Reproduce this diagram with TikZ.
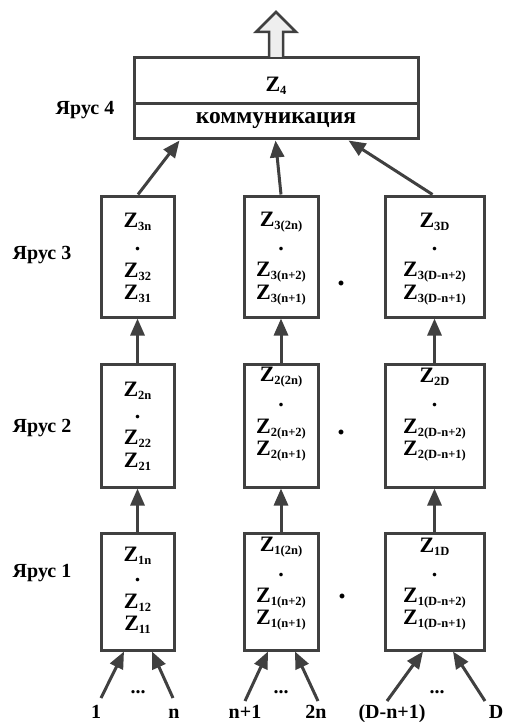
\documentclass[tikz,border=0pt]{standalone}
\usepackage{fontspec}
\setmainfont{Liberation Serif}
\usetikzlibrary{arrows.meta,calc}
\definecolor{dg}{RGB}{64,64,64}
\definecolor{lg}{RGB}{238,238,238}
\newcommand{\Zi}[1]{Z\raisebox{-3pt}{\fontsize{12.5}{12.5}\selectfont #1}}
\begin{document}
\begin{tikzpicture}[x=1pt,y=-1pt]
\tikzset{
  box/.style={draw=dg, line width=3pt, fill=white, inner sep=0pt},
  txt/.style={inner sep=0pt, font=\fontsize{22}{22}\selectfont\bfseries, text=black},
  lab/.style={inner sep=0pt, font=\fontsize{20}{20}\selectfont\bfseries, text=black},
  bigdot/.style={inner sep=0pt, font=\fontsize{30}{30}\selectfont\bfseries, text=black},
  arr/.style={draw=dg, line width=3pt, -{Triangle[length=17pt,width=14pt]}}
}
\useasboundingbox (0,0) rectangle (505,722);

% tier 4
\node[box, minimum width=284, minimum height=81] (b4) at (276,98.5) {};
\draw[dg, line width=3pt] (134,104) -- (418,104);
\node[txt] (z4) at (276,86) {\Zi{4}};
\node[txt, font=\fontsize{23.5}{23.5}\selectfont\bfseries] (komm) at (276,121) {коммуникация};
\node[lab] (y4) at (85,110) {Ярус 4};
\draw[dg, line width=2.5pt, fill=lg, line join=miter]
  (269,57) -- (269,32) -- (256,32) -- (276,12) -- (296,32) -- (283,32) -- (283,57);

% boxes
\node[box, minimum width=73, minimum height=121] (b3a) at (137.5,256.5) {};
\node[box, minimum width=74, minimum height=121] (b3b) at (281,256.5) {};
\node[box, minimum width=99, minimum height=121] (b3c) at (434.5,256.5) {};
\node[box, minimum width=73, minimum height=123] (b2a) at (137.5,425.5) {};
\node[box, minimum width=74, minimum height=123] (b2b) at (281,425.5) {};
\node[box, minimum width=99, minimum height=123] (b2c) at (434.5,425.5) {};
\node[box, minimum width=73, minimum height=117] (b1a) at (137.5,591.5) {};
\node[box, minimum width=74, minimum height=117] (b1b) at (281,591.5) {};
\node[box, minimum width=99, minimum height=117] (b1c) at (434.5,591.5) {};

% labels
\node[lab] (y3) at (42,255) {Ярус 3};
\node[lab] (y2) at (42,428) {Ярус 2};
\node[lab] (y1) at (42,573) {Ярус 1};

% tier 3 texts
\node[txt] (t3a1) at (137.5,222) {\Zi{3n}};
\node[txt] (t3a2) at (137.5,249) {.};
\node[txt] (t3a3) at (137.5,272) {\Zi{32}};
\node[txt] (t3a4) at (137.5,294) {\Zi{31}};
\node[txt] (t3b1) at (281,222) {\Zi{3(2n)}};
\node[txt] (t3b2) at (281,249) {.};
\node[txt] (t3b3) at (281,272) {\Zi{3(n+2)}};
\node[txt] (t3b4) at (281,295) {\Zi{3(n+1)}};
\node[txt] (t3c1) at (434.5,222) {\Zi{3D}};
\node[txt] (t3c2) at (434.5,249) {.};
\node[txt] (t3c3) at (434.5,272) {\Zi{3(D-n+2)}};
\node[txt] (t3c4) at (434.5,295) {\Zi{3(D-n+1)}};
\node[bigdot] (d3) at (341,283) {.};

% tier 2 texts
\node[txt] (t2a1) at (137.5,391) {\Zi{2n}};
\node[txt] (t2a2) at (137.5,417) {.};
\node[txt] (t2a3) at (137.5,439) {\Zi{22}};
\node[txt] (t2a4) at (137.5,462) {\Zi{21}};
\node[txt] (t2b1) at (281,377) {\Zi{2(2n)}};
\node[txt] (t2b2) at (281,405) {.};
\node[txt] (t2b3) at (281,429) {\Zi{2(n+2)}};
\node[txt] (t2b4) at (281,451) {\Zi{2(n+1)}};
\node[txt] (t2c1) at (434.5,377) {\Zi{2D}};
\node[txt] (t2c2) at (434.5,405) {.};
\node[txt] (t2c3) at (434.5,429) {\Zi{2(D-n+2)}};
\node[txt] (t2c4) at (434.5,451) {\Zi{2(D-n+1)}};
\node[bigdot] (d2) at (341,432) {.};

% tier 1 texts
\node[txt] (t1a1) at (137.5,556) {\Zi{1n}};
\node[txt] (t1a2) at (137.5,580) {.};
\node[txt] (t1a3) at (137.5,603) {\Zi{12}};
\node[txt] (t1a4) at (137.5,625) {\Zi{11}};
\node[txt] (t1b1) at (281,547) {\Zi{1(2n)}};
\node[txt] (t1b2) at (281,575) {.};
\node[txt] (t1b3) at (281,598) {\Zi{1(n+2)}};
\node[txt] (t1b4) at (281,620) {\Zi{1(n+1)}};
\node[txt] (t1c1) at (434.5,547) {\Zi{1D}};
\node[txt] (t1c2) at (434.5,575) {.};
\node[txt] (t1c3) at (434.5,598) {\Zi{1(D-n+2)}};
\node[txt] (t1c4) at (434.5,620) {\Zi{1(D-n+1)}};
\node[bigdot] (d1) at (342,596) {.};

% inputs
\coordinate (i1) at (101,698);
\coordinate (i2) at (173,698);
\coordinate (i3) at (245,701);
\coordinate (i4) at (318,701);
\coordinate (i5) at (387,701);
\coordinate (i6) at (485,701);
\node[lab] (e1) at (138,692) {...};
\node[lab] (e2) at (281,692) {...};
\node[lab] (e3) at (437,692) {...};
\node[lab, anchor=base] (l1) at (96,718.5) {1};
\node[lab, anchor=base] (l2) at (174,718.5) {n};
\node[lab, anchor=base] (l3) at (245,718.5) {n+1};
\node[lab, anchor=base] (l4) at (316,718.5) {2n};
\node[lab, anchor=base] (l5) at (392,718.5) {(D-n+1)};
\node[lab, anchor=base] (l6) at (496,718.5) {D};

\draw[arr] (i1) -- ($(b1a.south)+(-13.5,0)$);
\draw[arr] (i2) -- ($(b1a.south)+(14.5,0)$);
\draw[arr] (i3) -- ($(b1b.south)+(-13,0)$);
\draw[arr] (i4) -- ($(b1b.south)+(14,0)$);
\draw[arr] (i5) -- ($(b1c.south)+(-11.5,0)$);
\draw[arr] (i6) -- ($(b1c.south)+(18.5,0)$);

% between tiers
\draw[arr] (b1a.north) -- (b2a.south);
\draw[arr] (b1b.north) -- (b2b.south);
\draw[arr] (b1c.north) -- (b2c.south);
\draw[arr] (b2a.north) -- (b3a.south);
\draw[arr] (b2b.north) -- (b3b.south);
\draw[arr] (b2c.north) -- (b3c.south);
\draw[arr] ($(b3a.north)+(0.5,0)$) -- ($(b4.south west)+(47,0)$);
\draw[arr] (b3b.north) -- ($(b4.south west)+(143,0)$);
\draw[arr] ($(b3c.north)+(-2,0)$) -- ($(b4.south west)+(216,0)$);
\end{tikzpicture}
\end{document}
